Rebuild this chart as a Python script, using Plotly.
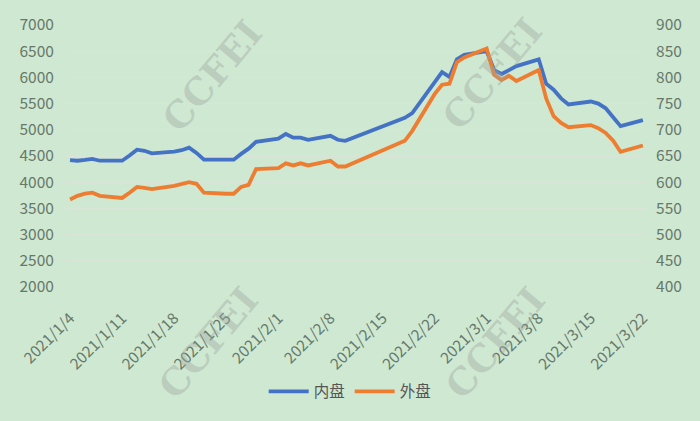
import plotly.graph_objects as go

dates = [
    "2021-01-04", "2021-01-05", "2021-01-06", "2021-01-07", "2021-01-08",
    "2021-01-11", "2021-01-12", "2021-01-13", "2021-01-14", "2021-01-15",
    "2021-01-18", "2021-01-19", "2021-01-20", "2021-01-21", "2021-01-22",
    "2021-01-25", "2021-01-26", "2021-01-27", "2021-01-28", "2021-01-29",
    "2021-02-01", "2021-02-02", "2021-02-03", "2021-02-04", "2021-02-05",
    "2021-02-08", "2021-02-09", "2021-02-10",
    "2021-02-18", "2021-02-19",
    "2021-02-22", "2021-02-23", "2021-02-24", "2021-02-25", "2021-02-26",
    "2021-03-01", "2021-03-02", "2021-03-03", "2021-03-04", "2021-03-05",
    "2021-03-08", "2021-03-09", "2021-03-10", "2021-03-11", "2021-03-12",
    "2021-03-15", "2021-03-16", "2021-03-17", "2021-03-18", "2021-03-19",
    "2021-03-22",
]

inner = [
    4420, 4410, 4425, 4445, 4410,
    4410, 4510, 4620, 4600, 4550,
    4585, 4610, 4660, 4560, 4430,
    4435, 4430, 4540, 4640, 4770,
    4830, 4920, 4850, 4850, 4810,
    4885, 4810, 4790,
    5230, 5320,
    5915, 6100, 6010, 6345, 6430,
    6500, 6140, 6065, 6140, 6215,
    6345, 5880, 5765, 5600, 5485,
    5540, 5500, 5410, 5240, 5070,
    5185,
]

outer = [
    567, 574, 578, 580, 574,
    570, 580, 591, 589, 587,
    593, 597, 600, 597, 580,
    578, 578, 591, 595, 625,
    627, 636, 632, 636, 632,
    641, 630, 630,
    679, 698,
    768, 786, 788, 829, 838,
    855, 805, 795, 803, 793,
    814, 760, 726, 713, 705,
    709, 703, 694, 679, 658,
    670,
]

tick_dates = ["2021-01-04", "2021-01-11", "2021-01-18", "2021-01-25", "2021-02-01",
              "2021-02-08", "2021-02-15", "2021-02-22", "2021-03-01", "2021-03-08",
              "2021-03-15", "2021-03-22"]
tick_labels = ["2021/1/4", "2021/1/11", "2021/1/18", "2021/1/25", "2021/2/1",
               "2021/2/8", "2021/2/15", "2021/2/22", "2021/3/1", "2021/3/8",
               "2021/3/15", "2021/3/22"]

left_ticks = [2000, 2500, 3000, 3500, 4000, 4500, 5000, 5500, 6000, 6500, 7000]
right_ticks = [400, 450, 500, 550, 600, 650, 700, 750, 800, 850, 900]

BG = "#cfe8d2"
TXT = "#67786a"
GRID = "#dbe4d8"
FONT = "Noto Sans CJK SC"

L, R, T, B = 66, 646, 22, 289  # plot area in pixels

fig = go.Figure()
fig.add_trace(go.Scatter(x=dates, y=inner, name="内盘", mode="lines",
                         line=dict(color="#4472C4", width=3.8), yaxis="y"))
fig.add_trace(go.Scatter(x=dates, y=outer, name="外盘", mode="lines",
                         line=dict(color="#ED7D31", width=3.8), yaxis="y2"))

# watermark
for (wx, wy) in [(212, 74), (492, 72), (208, 346), (495, 346)]:
    fig.add_annotation(text="<b>CCFEI</b>", x=(wx - L) / (R - L), y=(B - wy) / (B - T),
                       xref="paper", yref="paper", showarrow=False,
                       xanchor="center", yanchor="middle",
                       textangle=-50, font=dict(family="DejaVu Serif", size=37,
                                                color="rgba(160,168,160,0.42)"))

fig.update_layout(
    width=700, height=421,
    paper_bgcolor=BG, plot_bgcolor=BG,
    margin=dict(l=L, r=700 - R, t=T, b=421 - B),
    font=dict(family=FONT, color=TXT, size=15),
    showlegend=True,
    legend=dict(orientation="h", x=0.49, xanchor="center", y=-0.40, yanchor="middle",
                font=dict(size=15.5, color="#555555"), bgcolor="rgba(0,0,0,0)",
                itemwidth=40, traceorder="normal"),
    xaxis=dict(type="date", range=["2021-01-03 11:00", "2021-03-22 10:00"],
               tickvals=tick_dates, ticktext=tick_labels, tickangle=-45,
               showgrid=False, zeroline=False, showline=False,
               ticks="outside", ticklen=15, tickcolor=BG,
               tickfont=dict(size=15.5, color=TXT)),
    yaxis=dict(range=[2000, 7000], tickvals=left_ticks, showgrid=True,
               gridcolor=GRID, gridwidth=1, zeroline=False, showline=False,
               ticks="outside", ticklen=8, tickcolor=BG,
               tickfont=dict(size=15.5, color=TXT)),
    yaxis2=dict(range=[400, 900], tickvals=right_ticks, overlaying="y", side="right",
                showgrid=False, zeroline=False, showline=False,
                ticks="outside", ticklen=6, tickcolor=BG,
                tickfont=dict(size=15.5, color=TXT)),
)

fig.write_html("out.html", config={"displayModeBar": False},
               post_script="document.body.style.margin='0';")
